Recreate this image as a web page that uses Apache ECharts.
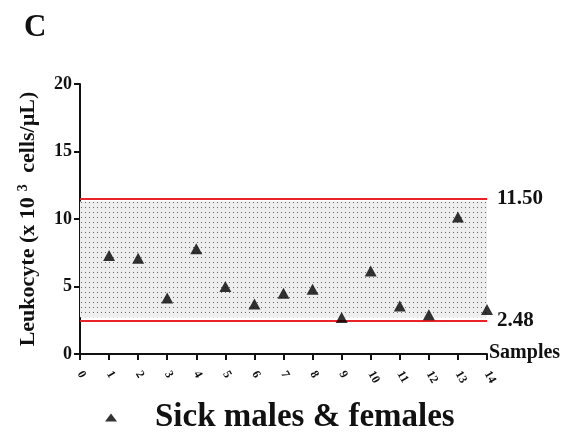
<!DOCTYPE html>
<html>
<head>
<meta charset="utf-8">
<script src="https://cdn.jsdelivr.net/npm/echarts@6/dist/echarts.min.js"></script>
<style>
  html, body { margin: 0; padding: 0; background: #fff; }
  #chart { width: 574px; height: 432px; }
</style>
</head>
<body>
<div id="chart"></div>
<script>
// sample numbers and leukocyte counts (x10^3 cells/uL)
const samples = [1, 2, 3, 4, 5, 6, 7, 8, 9, 10, 11, 12, 13, 14]
const leukocyte = [7.3, 7.1, 4.15, 7.8, 5.0, 3.7, 4.5, 4.8, 2.7, 6.15, 3.55, 2.9, 10.15, 3.3]
const refLow = 2.48
const refHigh = 11.5
const yTicks = [0, 5, 10, 15, 20]

const font = '"Liberation Serif", "Times New Roman", serif'

// dotted fill for the reference range
function dotPattern() {
  const c = document.createElement('canvas')
  c.width = 4
  c.height = 5
  const ctx = c.getContext('2d')
  ctx.fillStyle = '#eeeeee'
  ctx.fillRect(0, 0, 4, 5)
  ctx.fillStyle = '#666'
  ctx.fillRect(1, 2, 1, 1)
  return c
}

const chart = echarts.init(document.getElementById('chart'))

chart.setOption({
  backgroundColor: '#fff',
  animation: false,
  title: {
    text: 'C',
    left: 19,
    top: 7,
    textStyle: { fontFamily: font, fontSize: 31, fontWeight: 'bold', color: '#111' }
  },
  legend: {
    top: 401,
    left: 105,
    padding: 0,
    itemWidth: 12,
    itemHeight: 8,
    itemGap: 5,
    data: ['Sick males & females'],
    textStyle: { fontFamily: font, fontSize: 33, fontWeight: 'bold', color: '#111', padding: [0, 0, 0, 33] }
  },
  grid: { left: 80, right: 87, top: 84, bottom: 78, containLabel: false },
  xAxis: {
    type: 'value',
    min: 0,
    max: 14,
    interval: 1,
    name: 'Samples',
    nameLocation: 'end',
    nameGap: 2,
    nameTextStyle: { fontFamily: font, fontSize: 20, fontWeight: 'bold', color: '#111', verticalAlign: 'top', padding: [-11, 0, 0, 0] },
    splitLine: { show: false },
    axisLine: { lineStyle: { color: '#111', width: 2 } },
    axisTick: { length: 6, lineStyle: { color: '#111', width: 2 } },
    axisLabel: { rotate: -60, fontFamily: font, fontSize: 12, fontWeight: 'bold', color: '#111', margin: 18 }
  },
  yAxis: {
    type: 'value',
    min: 0,
    max: 20,
    interval: 5,
    name: '{a|Leukocyte (x 10}{s|3}{a| cells/µL)}',
    nameLocation: 'middle',
    nameGap: 40,
    nameRotate: 90,
    nameTextStyle: {
      rich: {
        a: { fontFamily: font, fontSize: 22, fontWeight: 'bold', color: '#111' },
        s: { fontFamily: font, fontSize: 14, fontWeight: 'bold', color: '#111', verticalAlign: 'top', padding: [0, 6, 10, 6] }
      }
    },
    splitLine: { show: false },
    axisLine: { show: true, lineStyle: { color: '#111', width: 2 } },
    axisTick: { show: true, length: 6, lineStyle: { color: '#111', width: 2 } },
    axisLabel: {
      fontFamily: font, fontSize: 18, fontWeight: 'bold', color: '#111', margin: 8,
      formatter: v => yTicks.includes(v) ? String(v) : ''
    }
  },
  series: [
    {
      name: 'Sick males & females',
      type: 'scatter',
      symbol: 'triangle',
      symbolSize: [12, 11],
      itemStyle: { color: '#000' },
      data: samples.map((s, i) => [s, leukocyte[i]]),
      z: 5,
      markArea: {
        silent: true,
        itemStyle: { color: { image: dotPattern(), repeat: 'repeat' } },
        data: [[{ yAxis: refLow + 0.25 }, { yAxis: refHigh - 0.2 }]]
      },
      markLine: {
        silent: true,
        symbol: 'none',
        lineStyle: { color: '#e8232a', width: 2, type: 'solid' },
        label: {
          position: 'end',
          distance: 10,
          fontFamily: font, fontSize: 21, fontWeight: 'bold', color: '#111',
          formatter: p => p.value.toFixed(2)
        },
        data: [{ yAxis: refHigh }, { yAxis: refLow }]
      }
    }
  ]
})
</script>
</body>
</html>
